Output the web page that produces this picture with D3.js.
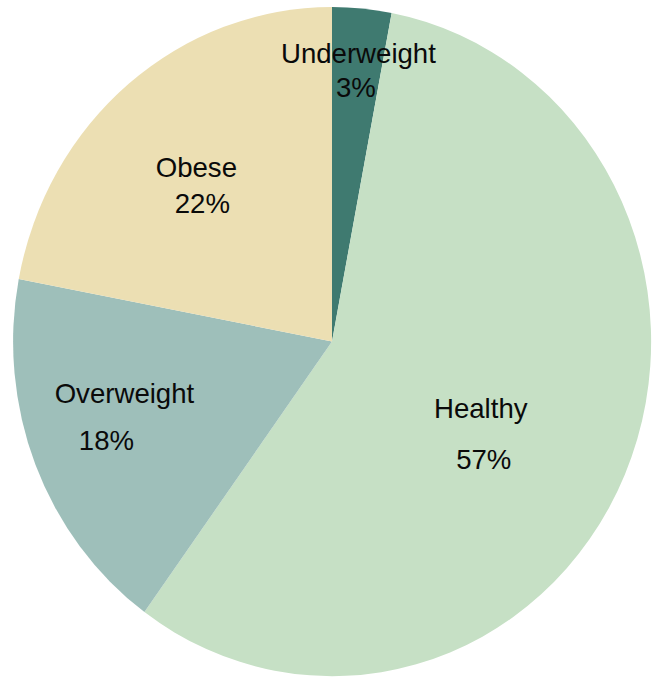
<!DOCTYPE html>
<html>
<head>
<meta charset="utf-8">
<script src="https://cdn.jsdelivr.net/npm/d3@7"></script>
<style>
  html, body { margin: 0; padding: 0; background: #ffffff; }
  svg { display: block; }
</style>
</head>
<body>
<svg id="chart" width="654" height="678"></svg>
<script>
// Weight-status shares (percent), clockwise from 12 o'clock
const categories = ["Underweight", "Healthy", "Overweight", "Obese"];
const shares = [3, 57, 18, 22];
const sliceColors = ["#3f7a70", "#c6e0c5", "#9ebfba", "#ecdfb3"];

// Label placement: radial fraction, angular nudge (deg), line gap and per-line x shifts
const labelLayout = {
  Underweight: { k: 0.815, turn: 0.1, gap: 34, nameDx: 1.5, pctDx: -1 },
  Healthy:     { k: 0.545, turn: 6.8, gap: 51, nameDx: -1.5, pctDx: 1.5 },
  Overweight:  { k: 0.715, turn: 3.3, gap: 47, nameDx: 9, pctDx: -9 },
  Obese:       { k: 0.625, turn: -2.1, gap: 36, nameDx: -3, pctDx: 3 }
};

const svg = d3.select("#chart");
const cx = 332, cy = 341.5, rx = 319, ry = 334.5;

const data = categories.map((c, i) => ({ name: c, value: shares[i], color: sliceColors[i] }));

const pie = d3.pie().sort(null).value(d => d.value);
const arcs = pie(data);

// The pie is drawn on a unit circle and stretched into a slightly tall ellipse
const arc = d3.arc().innerRadius(0).outerRadius(1);

const g = svg.append("g")
  .attr("transform", `translate(${cx},${cy}) scale(${rx},${ry})`);

g.selectAll("path")
  .data(arcs)
  .join("path")
  .attr("d", arc)
  .attr("fill", d => d.data.color);

// Labels: name above, percentage below
const labels = svg.append("g")
  .attr("font-family", "'Liberation Sans', Arial, Helvetica, sans-serif")
  .attr("font-size", 27.6)
  .attr("fill", "#0a0a0a")
  .attr("text-anchor", "middle");

arcs.forEach(a => {
  const L = labelLayout[a.data.name];
  const mid = (a.startAngle + a.endAngle) / 2 + L.turn * Math.PI / 180;
  const x = cx + Math.sin(mid) * rx * L.k;
  const y = cy - Math.cos(mid) * ry * L.k;
  labels.append("text")
    .attr("x", x + L.nameDx)
    .attr("y", y - L.gap / 2)
    .attr("dy", "0.36em")
    .text(a.data.name);
  labels.append("text")
    .attr("x", x + L.pctDx)
    .attr("y", y + L.gap / 2)
    .attr("dy", "0.36em")
    .text(a.data.value + "%");
});
</script>
</body>
</html>
